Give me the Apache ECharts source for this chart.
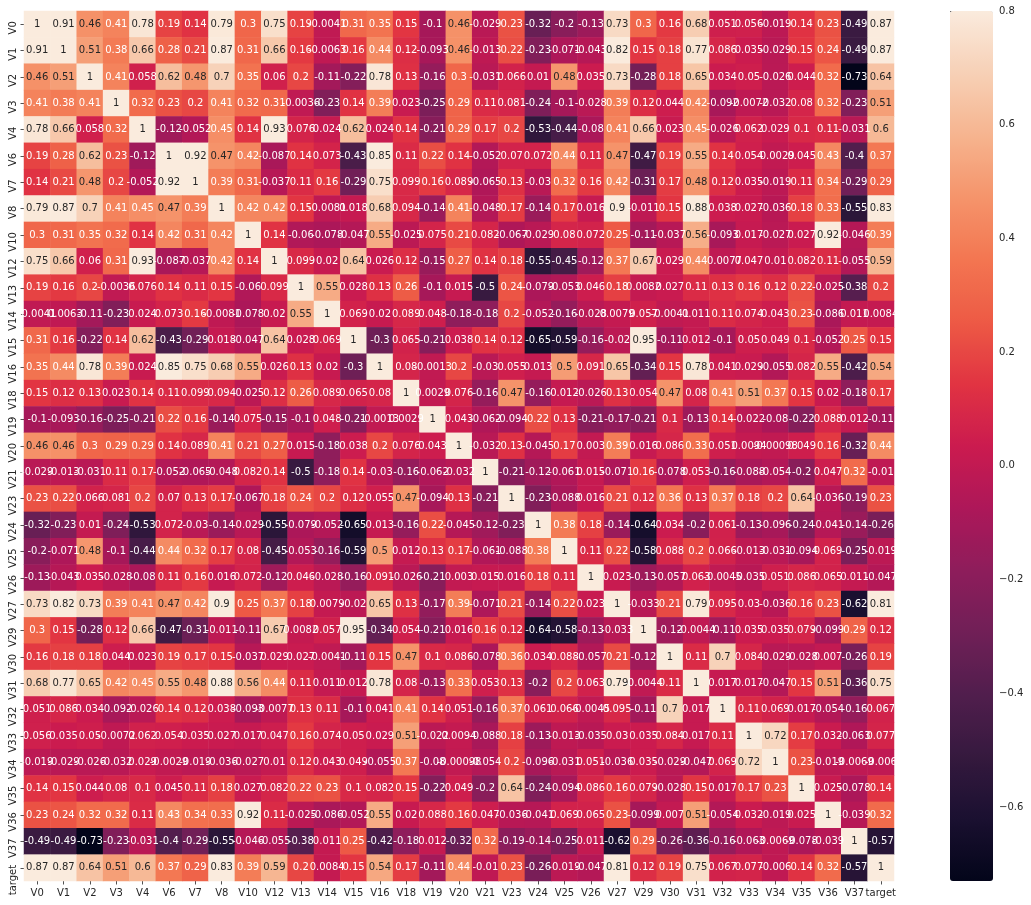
<!DOCTYPE html>
<html>
<head>
<meta charset="utf-8">
<style>html,body{margin:0;padding:0;background:#fff}#c{width:1031px;height:905px}</style>
<script src="https://cdn.jsdelivr.net/npm/echarts@6/dist/echarts.min.js"></script>
</head>
<body>
<div id="c"></div>
<script>
const categories = ['V0','V1','V2','V3','V4','V6','V7','V8','V10','V12','V13','V14','V15','V16','V18','V19','V20','V21','V23','V24','V25','V26','V27','V29','V30','V31','V32','V33','V34','V35','V36','V37','target'];
const rowV0 = [1,0.91,0.46,0.41,0.78,0.19,0.14,0.79,0.3,0.75,0.19,-0.0041,0.31,0.35,0.15,-0.1,0.46,-0.029,0.23,-0.32,-0.2,-0.13,0.73,0.3,0.16,0.68,0.051,0.056,-0.019,0.14,0.23,-0.49,0.87];
const rowV1 = [0.91,1,0.51,0.38,0.66,0.28,0.21,0.87,0.31,0.66,0.16,-0.0063,0.16,0.44,0.12,-0.093,0.46,-0.013,0.22,-0.23,-0.071,-0.043,0.82,0.15,0.18,0.77,0.086,0.035,-0.029,0.15,0.24,-0.49,0.87];
const rowV2 = [0.46,0.51,1,0.41,0.058,0.62,0.48,0.7,0.35,0.06,0.2,-0.11,-0.22,0.78,0.13,-0.16,0.3,-0.031,0.066,0.01,0.48,0.035,0.73,-0.28,0.18,0.65,0.034,0.05,-0.026,0.044,0.32,-0.73,0.64];
const rowV3 = [0.41,0.38,0.41,1,0.32,0.23,0.2,0.41,0.32,0.31,-0.0036,-0.23,0.14,0.39,0.023,-0.25,0.29,0.11,0.081,-0.24,-0.1,-0.028,0.39,0.12,0.044,0.42,-0.092,-0.0072,-0.032,0.08,0.32,-0.23,0.51];
const rowV4 = [0.78,0.66,0.058,0.32,1,-0.12,-0.052,0.45,0.14,0.93,0.076,0.024,0.62,0.024,0.14,-0.21,0.29,0.17,0.2,-0.53,-0.44,-0.08,0.41,0.66,0.023,0.45,-0.026,0.062,0.029,0.1,0.11,-0.031,0.6];
const rowV6 = [0.19,0.28,0.62,0.23,-0.12,1,0.92,0.47,0.42,-0.087,0.14,0.073,-0.43,0.85,0.11,0.22,0.14,-0.052,0.07,0.072,0.44,0.11,0.47,-0.47,0.19,0.55,0.14,0.054,-0.0029,0.045,0.43,-0.4,0.37];
const rowV7 = [0.14,0.21,0.48,0.2,-0.052,0.92,1,0.39,0.31,-0.037,0.11,0.16,-0.29,0.75,0.099,0.16,0.089,-0.065,0.13,-0.03,0.32,0.16,0.42,-0.31,0.17,0.48,0.12,0.035,-0.019,0.11,0.34,-0.29,0.29];
const rowV8 = [0.79,0.87,0.7,0.41,0.45,0.47,0.39,1,0.42,0.42,0.15,-0.0081,0.018,0.68,0.094,-0.14,0.41,-0.048,0.17,-0.14,0.17,0.016,0.9,-0.011,0.15,0.88,0.038,0.027,-0.036,0.18,0.33,-0.55,0.83];
const rowV10 = [0.3,0.31,0.35,0.32,0.14,0.42,0.31,0.42,1,0.14,-0.06,-0.078,-0.047,0.55,-0.025,0.075,0.21,0.082,-0.067,-0.029,0.08,0.072,0.25,-0.11,-0.037,0.56,-0.093,0.017,-0.027,0.027,0.92,-0.046,0.39];
const rowV12 = [0.75,0.66,0.06,0.31,0.93,-0.087,-0.037,0.42,0.14,1,0.099,0.02,0.64,0.026,0.12,-0.15,0.27,0.14,0.18,-0.55,-0.45,-0.12,0.37,0.67,0.029,0.44,-0.0077,0.047,0.01,0.082,0.11,-0.055,0.59];
const rowV13 = [0.19,0.16,0.2,-0.0036,0.076,0.14,0.11,0.15,-0.06,0.099,1,0.55,0.028,0.13,0.26,-0.1,0.015,-0.5,0.24,-0.079,-0.053,0.046,0.18,0.0082,0.027,0.11,0.13,0.16,0.12,0.22,-0.025,-0.38,0.2];
const rowV14 = [-0.0041,-0.0063,-0.11,-0.23,0.024,0.073,0.16,-0.0081,-0.078,0.02,0.55,1,0.069,0.02,0.089,0.048,-0.18,-0.18,0.2,-0.052,-0.16,-0.028,0.0079,0.057,-0.0041,0.011,0.11,0.074,0.043,0.23,-0.086,0.011,0.0084];
const rowV15 = [0.31,0.16,-0.22,0.14,0.62,-0.43,-0.29,0.018,-0.047,0.64,0.028,0.069,1,-0.3,0.065,-0.21,0.038,0.14,0.12,-0.65,-0.59,-0.16,-0.02,0.95,-0.11,0.012,-0.1,0.05,0.049,0.1,-0.052,0.25,0.15];
const rowV16 = [0.35,0.44,0.78,0.39,0.024,0.85,0.75,0.68,0.55,0.026,0.13,0.02,-0.3,1,0.08,-0.0013,0.2,-0.03,0.055,0.013,0.5,0.091,0.65,-0.34,0.15,0.78,0.041,0.029,-0.055,0.082,0.55,-0.42,0.54];
const rowV18 = [0.15,0.12,0.13,0.023,0.14,0.11,0.099,0.094,-0.025,0.12,0.26,0.089,0.065,0.08,1,0.0029,0.076,-0.16,0.47,-0.16,0.012,-0.026,0.13,0.054,0.47,0.08,0.41,0.51,0.37,0.15,0.02,-0.18,0.17];
const rowV19 = [-0.1,-0.093,-0.16,-0.25,-0.21,0.22,0.16,-0.14,0.075,-0.15,-0.1,0.048,-0.21,-0.0013,0.0029,1,0.043,-0.062,-0.094,0.22,0.13,-0.21,-0.17,-0.21,0.1,-0.13,0.14,-0.022,-0.08,-0.22,0.088,0.012,-0.11];
const rowV20 = [0.46,0.46,0.3,0.29,0.29,0.14,0.089,0.41,0.21,0.27,0.015,-0.18,0.038,0.2,0.076,0.043,1,-0.032,0.13,-0.045,0.17,0.003,0.39,0.016,0.086,0.33,0.051,0.0094,-0.00098,0.049,0.16,-0.32,0.44];
const rowV21 = [-0.029,-0.013,-0.031,0.11,0.17,-0.052,-0.065,-0.048,0.082,0.14,-0.5,-0.18,0.14,-0.03,-0.16,-0.062,-0.032,1,-0.21,-0.12,-0.061,0.015,-0.071,0.16,-0.078,0.053,-0.16,-0.088,-0.054,-0.2,0.047,0.32,-0.01];
const rowV23 = [0.23,0.22,0.066,0.081,0.2,0.07,0.13,0.17,-0.067,0.18,0.24,0.2,0.12,0.055,0.47,-0.094,0.13,-0.21,1,-0.23,-0.088,0.016,0.21,0.12,0.36,0.13,0.37,0.18,0.2,0.64,-0.036,-0.19,0.23];
const rowV24 = [-0.32,-0.23,0.01,-0.24,-0.53,0.072,-0.03,-0.14,-0.029,-0.55,-0.079,-0.052,-0.65,0.013,-0.16,0.22,-0.045,-0.12,-0.23,1,0.38,0.18,-0.14,-0.64,0.034,-0.2,0.061,-0.13,-0.096,-0.24,-0.041,-0.14,-0.26];
const rowV25 = [-0.2,-0.071,0.48,-0.1,-0.44,0.44,0.32,0.17,0.08,-0.45,-0.053,-0.16,-0.59,0.5,0.012,0.13,0.17,-0.061,-0.088,0.38,1,0.11,0.22,-0.58,0.088,0.2,0.066,-0.013,-0.031,-0.094,0.069,-0.25,-0.019];
const rowV26 = [-0.13,-0.043,0.035,-0.028,-0.08,0.11,0.16,0.016,0.072,-0.12,0.046,-0.028,-0.16,0.091,-0.026,-0.21,0.003,0.015,0.016,0.18,0.11,1,0.023,-0.13,-0.057,0.063,-0.0045,-0.035,0.051,0.086,0.065,0.011,-0.047];
const rowV27 = [0.73,0.82,0.73,0.39,0.41,0.47,0.42,0.9,0.25,0.37,0.18,0.0079,-0.02,0.65,0.13,-0.17,0.39,-0.071,0.21,-0.14,0.22,0.023,1,-0.033,0.21,0.79,0.095,0.03,-0.036,0.16,0.23,-0.62,0.81];
const rowV29 = [0.3,0.15,-0.28,0.12,0.66,-0.47,-0.31,-0.011,-0.11,0.67,0.0082,0.057,0.95,-0.34,0.054,-0.21,0.016,0.16,0.12,-0.64,-0.58,-0.13,-0.033,1,-0.12,-0.0044,-0.11,0.035,0.035,0.079,-0.099,0.29,0.12];
const rowV30 = [0.16,0.18,0.18,0.044,0.023,0.19,0.17,0.15,-0.037,0.029,0.027,-0.0041,-0.11,0.15,0.47,0.1,0.086,-0.078,0.36,0.034,0.088,-0.057,0.21,-0.12,1,0.11,0.7,0.084,-0.029,-0.028,0.007,-0.26,0.19];
const rowV31 = [0.68,0.77,0.65,0.42,0.45,0.55,0.48,0.88,0.56,0.44,0.11,0.011,0.012,0.78,0.08,-0.13,0.33,0.053,0.13,-0.2,0.2,0.063,0.79,-0.0044,0.11,1,0.017,0.017,-0.047,0.15,0.51,-0.36,0.75];
const rowV32 = [0.051,0.086,0.034,-0.092,-0.026,0.14,0.12,0.038,-0.093,-0.0077,0.13,0.11,-0.1,0.041,0.41,0.14,0.051,-0.16,0.37,0.061,0.066,-0.0045,0.095,-0.11,0.7,0.017,1,0.11,0.069,0.017,-0.054,-0.16,0.067];
const rowV33 = [0.056,0.035,0.05,-0.0072,0.062,0.054,0.035,0.027,0.017,0.047,0.16,0.074,0.05,0.029,0.51,-0.022,0.0094,-0.088,0.18,-0.13,-0.013,-0.035,0.03,0.035,0.084,0.017,0.11,1,0.72,0.17,0.032,-0.063,0.077];
const rowV34 = [-0.019,-0.029,-0.026,-0.032,0.029,-0.0029,-0.019,-0.036,-0.027,0.01,0.12,0.043,0.049,-0.055,0.37,-0.08,-0.00098,-0.054,0.2,-0.096,-0.031,0.051,-0.036,0.035,-0.029,-0.047,0.069,0.72,1,0.23,-0.019,-0.0069,-0.006];
const rowV35 = [0.14,0.15,0.044,0.08,0.1,0.045,0.11,0.18,0.027,0.082,0.22,0.23,0.1,0.082,0.15,-0.22,0.049,-0.2,0.64,-0.24,-0.094,0.086,0.16,0.079,-0.028,0.15,0.017,0.17,0.23,1,0.025,-0.078,0.14];
const rowV36 = [0.23,0.24,0.32,0.32,0.11,0.43,0.34,0.33,0.92,0.11,-0.025,-0.086,-0.052,0.55,0.02,0.088,0.16,0.047,-0.036,-0.041,0.069,0.065,0.23,-0.099,0.007,0.51,-0.054,0.032,-0.019,0.025,1,-0.039,0.32];
const rowV37 = [-0.49,-0.49,-0.73,-0.23,-0.031,-0.4,-0.29,-0.55,-0.046,-0.055,-0.38,0.011,0.25,-0.42,-0.18,0.012,-0.32,0.32,-0.19,-0.14,-0.25,0.011,-0.62,0.29,-0.26,-0.36,-0.16,-0.063,-0.0069,-0.078,-0.039,1,-0.57];
const rowTarget = [0.87,0.87,0.64,0.51,0.6,0.37,0.29,0.83,0.39,0.59,0.2,0.0084,0.15,0.54,0.17,-0.11,0.44,-0.01,0.23,-0.26,-0.019,-0.047,0.81,0.12,0.19,0.75,0.067,0.077,-0.006,0.14,0.32,-0.57,1];
const colorbarTicks = [-0.6,-0.4,-0.2,0,0.2,0.4,0.6,0.8];

const rows = [rowV0,rowV1,rowV2,rowV3,rowV4,rowV6,rowV7,rowV8,rowV10,rowV12,rowV13,rowV14,rowV15,rowV16,rowV18,rowV19,rowV20,rowV21,rowV23,rowV24,rowV25,rowV26,rowV27,rowV29,rowV30,rowV31,rowV32,rowV33,rowV34,rowV35,rowV36,rowV37,rowTarget];
const rocket = ['#03051a','#1a1030','#35193e','#511e4d','#701f57','#8e1d5b','#ad1759','#cb1b4f','#e13342','#ed5a45','#f37651','#f5946b','#f6b48f','#f7d0b6','#faebdd'];
const cells = [];
rows.forEach((r,y)=>r.forEach((v,x)=>cells.push({
  value:[x,y,v],
  label:{color:v>=0.46?'#262626':'#ffffff'}
})));
const font = '"DejaVu Sans", sans-serif';
const axisText = {color:'#262626',fontFamily:font,fontSize:10};
const tick = {show:true,alignWithLabel:true,length:3.5,lineStyle:{color:'#262626',width:0.8}};

const chart = echarts.init(document.getElementById('c'),null,{renderer:'canvas'});
chart.setOption({
  animation:false,
  backgroundColor:'#ffffff',
  grid:[
    {left:24,top:11,width:870,height:870,containLabel:false},
    {left:950,top:11,width:43,height:870,containLabel:false}
  ],
  xAxis:[
    {type:'category',gridIndex:0,data:categories,position:'bottom',
      axisLine:{show:false},axisTick:tick,splitLine:{show:false},
      axisLabel:{...axisText,interval:0,margin:7}},
    {type:'value',gridIndex:1,min:0,max:1,show:false}
  ],
  yAxis:[
    {type:'category',gridIndex:0,data:categories,inverse:true,
      axisLine:{show:false},axisTick:tick,splitLine:{show:false},
      axisLabel:{...axisText,interval:0,rotate:90,margin:6,align:'right',padding:[0,-3,0,0]}},
    {type:'value',gridIndex:1,position:'right',min:-0.73,max:0.8,
      axisLine:{show:false},splitLine:{show:false},
      axisTick:{show:true,length:3.5,lineStyle:{color:'#262626',width:0.8},customValues:colorbarTicks},
      axisLabel:{...axisText,margin:6,customValues:colorbarTicks,showMinLabel:true,showMaxLabel:true,
        formatter:v=>v.toFixed(1).replace('-','\u2212')}}
  ],
  visualMap:{
    type:'continuous',seriesIndex:0,min:-0.73,max:0.8,
    left:950,top:11,itemWidth:43,itemHeight:870,padding:0,
    calculable:false,realtime:false,hoverLink:false,
    indicatorSize:0,indicatorStyle:{opacity:0,borderWidth:0,shadowBlur:0},
    indicatorLabel:{show:false},handleLabel:{show:false},
    formatter:()=>'',
    inRange:{color:rocket}
  },
  series:[{
    type:'heatmap',xAxisIndex:0,yAxisIndex:0,data:cells,
    itemStyle:{borderWidth:0},
    emphasis:{disabled:true},
    label:{show:true,fontFamily:font,fontSize:10,
      formatter:p=>String(p.value[2])},
    labelLayout:{hideOverlap:false}
  }]
});
</script>
</body>
</html>
